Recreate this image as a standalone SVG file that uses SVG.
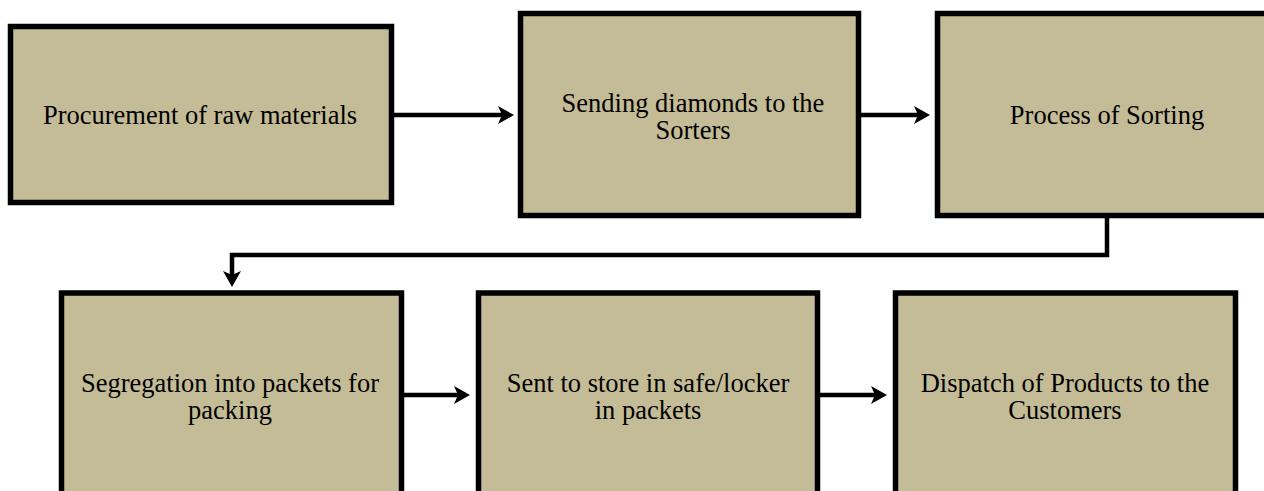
<svg xmlns="http://www.w3.org/2000/svg" width="1264" height="491" viewBox="0 0 1264 491">
<defs>
<style>
.box{fill:#c4bc96;stroke:#000;stroke-width:5.5}
.lbl{font-family:"Liberation Serif","Times New Roman","DejaVu Serif",serif;font-size:26.5px;fill:#000;text-anchor:middle}
.con{fill:none;stroke:#000;stroke-width:4.5}
.head{fill:#000}
</style>
</defs>
<rect width="1264" height="491" fill="#fff"/>
<g id="connectors">
<path class="con" d="M394,115 L504,115"/>
<path class="head" d="M514,115 L498,106 L502,115 L498,124 Z"/>
<path class="con" d="M861,115 L920,115"/>
<path class="head" d="M930,115 L914,106 L918,115 L914,124 Z"/>
<path class="con" d="M1107,218 L1107,255 L232,255 L232,276"/>
<path class="head" d="M232,287 L223,271 L232,275 L241,271 Z"/>
<path class="con" d="M404,395 L460,395"/>
<path class="head" d="M470,395 L454,386 L458,395 L454,404 Z"/>
<path class="con" d="M820,395 L877,395"/>
<path class="head" d="M887,395 L871,386 L875,395 L871,404 Z"/>
</g>
<g id="n1"><rect class="box" x="10.5" y="26.5" width="381" height="176"/>
<text class="lbl" x="200" y="124">Procurement of raw materials</text></g>
<g id="n2"><rect class="box" x="520.5" y="13.5" width="338" height="202"/>
<text class="lbl" x="693" y="112">Sending diamonds to the</text>
<text class="lbl" x="693" y="139">Sorters</text></g>
<g id="n3"><rect class="box" x="937.5" y="13.5" width="342" height="202"/>
<text class="lbl" x="1107" y="124">Process of Sorting</text></g>
<g id="n4"><rect class="box" x="61.5" y="293" width="340" height="210"/>
<text class="lbl" x="230" y="392">Segregation into packets for</text>
<text class="lbl" x="230" y="419">packing</text></g>
<g id="n5"><rect class="box" x="478.5" y="293" width="339" height="210"/>
<text class="lbl" x="648" y="392">Sent to store in safe/locker</text>
<text class="lbl" x="648" y="419">in packets</text></g>
<g id="n6"><rect class="box" x="895.5" y="293" width="340" height="210"/>
<text class="lbl" x="1065" y="392">Dispatch of Products to the</text>
<text class="lbl" x="1065" y="419">Customers</text></g>
</svg>
